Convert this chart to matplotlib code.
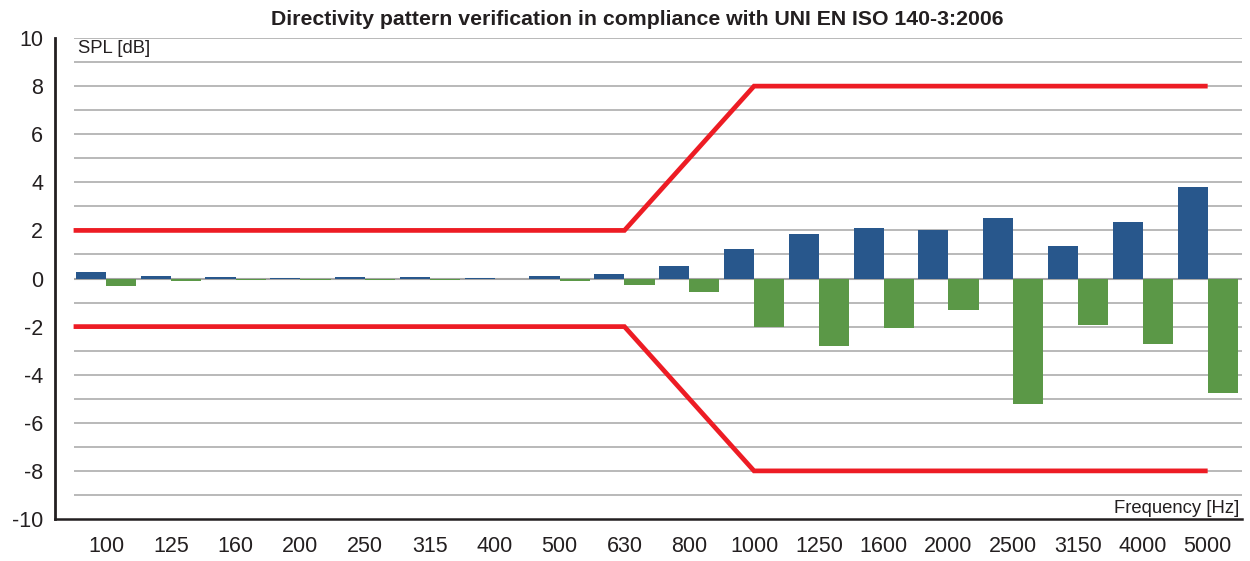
import numpy as np
import matplotlib
matplotlib.use("Agg")
import matplotlib.pyplot as plt

# third-octave bands and measured deviations (dB)
bands = ["100", "125", "160", "200", "250", "315", "400", "500", "630",
         "800", "1000", "1250", "1600", "2000", "2500", "3150", "4000", "5000"]
dev_max = [0.26, 0.10, 0.06, 0.02, 0.06, 0.06, 0.04, 0.10, 0.18,
           0.51, 1.22, 1.85, 2.10, 2.01, 2.51, 1.35, 2.35, 3.81]
dev_min = [-0.33, -0.12, -0.08, -0.07, -0.07, -0.07, -0.04, -0.10, -0.25,
           -0.57, -2.02, -2.82, -2.06, -1.32, -5.20, -1.95, -2.74, -4.78]

# tolerance limits (x in band index units)
limit_x = [-0.5, 8, 10, 17]
limit_upper = [2, 2, 8, 8]
limit_lower = [-2, -2, -8, -8]

blue = "#28578c"
green = "#5b9847"
red = "#ed1c24"
grid_col = "#a6a6a6"
ink = "#231f20"

plt.rcParams['font.family'] = ['Liberation Sans', 'DejaVu Sans']
plt.rcParams['axes.unicode_minus'] = False

fig = plt.figure(figsize=(12.5, 5.61), dpi=100)
ax = fig.add_axes([0.044, 0.0749, 0.9496, 0.8573])

x = np.arange(len(bands))
w = 0.465
xl, xr = -0.787, 17.53

# horizontal grid, starts a bit right of the axis
for yv in range(-9, 11):
    ax.hlines(yv, -0.5, xr, color=grid_col, lw=1.1 if yv else 1.5, zorder=1)

ax.bar(x - w / 2, dev_max, width=w, color=blue, zorder=2)
ax.bar(x + w / 2, dev_min, width=w, color=green, zorder=2)

ax.plot(limit_x, limit_upper, color=red, lw=3.4, solid_capstyle='butt',
        solid_joinstyle='miter', zorder=4)
ax.plot(limit_x, limit_lower, color=red, lw=3.4, solid_capstyle='butt',
        solid_joinstyle='miter', zorder=4)

ax.set_xlim(xl, xr)
ax.set_ylim(-10, 10)

ax.set_xticks(x)
ax.set_xticklabels(bands)
ax.set_yticks(np.arange(-10, 11, 2))
ax.set_yticks([0], minor=True)
ax.tick_params(axis='both', which='major', length=0, labelsize=15.5, colors=ink)
ax.tick_params(axis='y', which='major', pad=8.5)
ax.tick_params(axis='x', which='major', pad=12)
ax.tick_params(axis='y', which='minor', direction='inout', length=9.5,
               width=1.6, color=ink)

for s in ['top', 'right']:
    ax.spines[s].set_visible(False)
ax.spines['left'].set_linewidth(2.0)
ax.spines['left'].set_color(ink)
ax.spines['bottom'].set_linewidth(1.8)
ax.spines['bottom'].set_color(ink)

ax.text(0.0194, 9.58, "SPL [dB]", transform=ax.get_yaxis_transform(),
        ha='left', va='center', fontsize=13.3, color=ink)
ax.text(0.998, -9.55, "Frequency [Hz]", transform=ax.get_yaxis_transform(),
        ha='right', va='center', fontsize=13.3, color=ink)

fig.text(0.51, 0.966, "Directivity pattern verification in compliance with UNI EN ISO 140-3:2006",
         ha='center', va='center', fontsize=15.3, fontweight='bold', color=ink)

fig.savefig("out.png", dpi=100)
